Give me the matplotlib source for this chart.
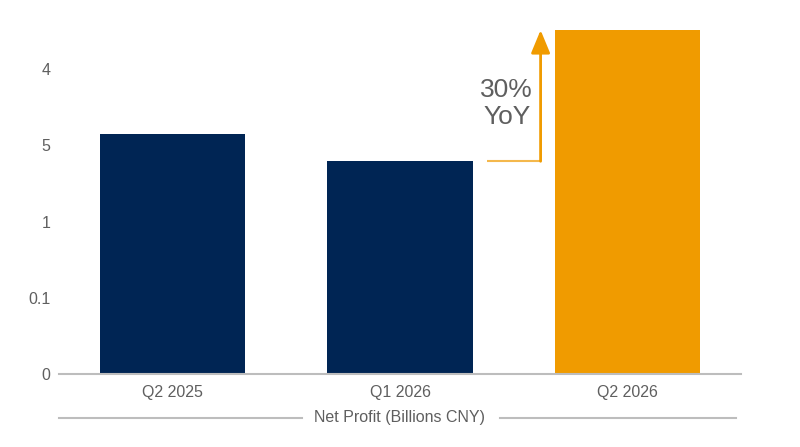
import matplotlib
matplotlib.use("Agg")
import matplotlib.pyplot as plt

# data
quarters = ["Q2 2025", "Q1 2026", "Q2 2026"]
profit = [3.15, 2.79, 4.51]
ytick_pos = [0, 1, 2, 3, 4]
ytick_labels = ["0", "0.1", "1", "5", "4"]
yoy_text = ["30%", "YoY"]

navy = "#002554"
orange = "#F09B00"
grey_text = "#5f5f5f"
axis_grey = "#bdbdbd"

plt.rcParams['font.family'] = ['Liberation Sans', 'DejaVu Sans']

fig = plt.figure(figsize=(8, 4.47), dpi=100)
ax = fig.add_axes([58.75 / 800, 73 / 447, 682.5 / 800, 374 / 447])

x = list(range(len(quarters)))
colors = [navy, navy, orange]
ax.bar(x, profit, width=0.64, color=colors, zorder=2)

ax.set_xlim(-0.5, 2.5)
ax.set_ylim(0, 4.905)

for s in ["top", "right", "left"]:
    ax.spines[s].set_visible(False)
ax.spines["bottom"].set_color(axis_grey)
ax.spines["bottom"].set_linewidth(1.5)
ax.spines["bottom"].set_zorder(3)

ax.set_xticks(x)
ax.set_xticklabels(quarters, fontsize=11.5, color=grey_text)
ax.set_yticks(ytick_pos)
ax.set_yticklabels(ytick_labels, fontsize=11.5, color=grey_text)
ax.tick_params(axis="x", length=0, pad=8)
ax.tick_params(axis="y", length=0, pad=6)

# YoY arrow from Q1 2026 level up to Q2 2026 level
x_start, x_arrow = 1.382, 1.618
ax.plot([x_start, x_arrow], [profit[1], profit[1]], color=orange, alpha=0.7,
        lw=1.5, solid_capstyle="butt")
ax.annotate("", xy=(x_arrow, profit[2]), xytext=(x_arrow, profit[1]),
            arrowprops=dict(arrowstyle="-|>,head_length=0.7,head_width=0.29",
                            mutation_scale=20, color=orange, lw=2,
                            shrinkA=0, shrinkB=0))
ax.text(1.469, 3.73, yoy_text[0], fontsize=19, color=grey_text,
        ha="center", va="center")
ax.text(1.469, 3.375, yoy_text[1], fontsize=19, color=grey_text,
        ha="center", va="center")

# x axis title with rules either side
y_lab = -0.1176
ax.plot([0, 0.356], [y_lab, y_lab], transform=ax.transAxes, color=axis_grey,
        lw=1.5, clip_on=False)
ax.plot([0.647, 0.992], [y_lab, y_lab], transform=ax.transAxes, color=axis_grey,
        lw=1.5, clip_on=False)
ax.text(0.5, y_lab, "Net Profit (Billions CNY)", transform=ax.transAxes,
        fontsize=11.5, color=grey_text, ha="center", va="center")

fig.savefig("out.png", dpi=100)
